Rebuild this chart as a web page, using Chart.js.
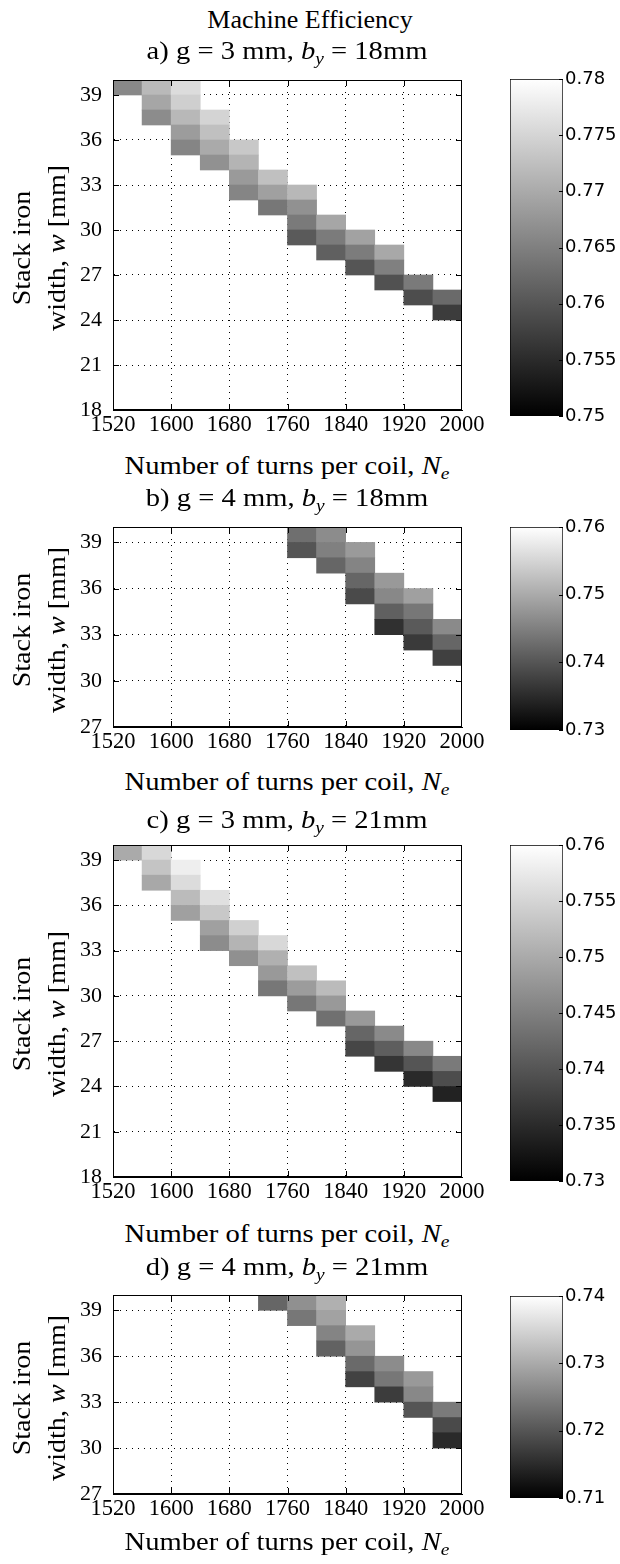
<!DOCTYPE html>
<html><head><meta charset="utf-8">
<script src="https://cdn.jsdelivr.net/npm/chart.js@4.4.0/dist/chart.umd.min.js"></script>
<style>
html,body{margin:0;padding:0;background:#fff;}
#page{position:relative;width:620px;height:1564px;overflow:hidden;background:#fff;}
canvas{position:absolute;}
.t{position:absolute;font-family:"Liberation Serif","Times New Roman",serif;font-size:26px;color:#000;white-space:nowrap;line-height:1;transform:translate(-50%,-50%) scaleX(1.1);z-index:5;}
.main{transform:translate(-50%,-50%);}
.r{transform:translate(-50%,-50%) rotate(-90deg) scaleX(1.08);}
.sb{font-size:0.68em;position:relative;top:0.28em;}
</style></head>
<body><div id="page"></div>
<script>
// ---------- data ----------
const turnTicks = [1520, 1600, 1680, 1760, 1840, 1920, 2000];
const widthTicksA = [18, 21, 24, 27, 30, 33, 36, 39];
const widthTicksB = [27, 30, 33, 36, 39];

// a) g = 3 mm, by = 18 mm
const aTurns = [1540, 1580,1580,1580, 1620,1620,1620,1620,1620, 1660,1660,1660,1660, 1700,1700,1700,1700, 1740,1740,1740, 1780,1780,1780,1780, 1820,1820,1820, 1860,1860,1860, 1900,1900,1900, 1940,1940, 1980,1980];
const aWidth = [39.5, 39.5,38.5,37.5, 39.5,38.5,37.5,36.5,35.5, 37.5,36.5,35.5,34.5, 35.5,34.5,33.5,32.5, 33.5,32.5,31.5, 32.5,31.5,30.5,29.5, 30.5,29.5,28.5, 29.5,28.5,27.5, 28.5,27.5,26.5, 26.5,25.5, 25.5,24.5];
const aEff = [0.7660, 0.7718,0.7695,0.7665, 0.7759,0.7744,0.7716,0.7684,0.7656, 0.7749,0.7726,0.7700,0.7670, 0.7735,0.7712,0.7681,0.7656, 0.7726,0.7688,0.7640, 0.7716,0.7670,0.7644,0.7606, 0.7695,0.7645,0.7613, 0.7690,0.7646,0.7600, 0.7698,0.7651,0.7595, 0.7643,0.7590, 0.7625,0.7571];
const aCbTicks = [0.75, 0.755, 0.76, 0.765, 0.77, 0.775, 0.78];
const aCbLabels = ['0.75', '0.755', '0.76', '0.765', '0.77', '0.775', '0.78'];

// b) g = 4 mm, by = 18 mm
const bTurns = [1780,1780, 1820,1820,1820, 1860,1860,1860,1860, 1900,1900,1900,1900, 1940,1940,1940,1940, 1980,1980,1980];
const bWidth = [39.5,38.5, 39.5,38.5,37.5, 38.5,37.5,36.5,35.5, 36.5,35.5,34.5,33.5, 35.5,34.5,33.5,32.5, 33.5,32.5,31.5];
const bEff = [0.7430,0.7400, 0.7465,0.7450,0.7420, 0.7481,0.7455,0.7420,0.7387, 0.7480,0.7460,0.7413,0.7356, 0.7488,0.7440,0.7406,0.7368, 0.7462,0.7420,0.7375];
const bCbTicks = [0.73, 0.74, 0.75, 0.76];
const bCbLabels = ['0.73', '0.74', '0.75', '0.76'];

// c) g = 3 mm, by = 21 mm
const cTurns = [1540, 1580,1580,1580, 1620,1620,1620,1620, 1660,1660,1660,1660, 1700,1700,1700, 1740,1740,1740,1740, 1780,1780,1780, 1820,1820,1820, 1860,1860,1860, 1900,1900,1900, 1940,1940,1940, 1980,1980,1980];
const cWidth = [39.5, 39.5,38.5,37.5, 38.5,37.5,36.5,35.5, 36.5,35.5,34.5,33.5, 34.5,33.5,32.5, 33.5,32.5,31.5,30.5, 31.5,30.5,29.5, 30.5,29.5,28.5, 28.5,27.5,26.5, 27.5,26.5,25.5, 26.5,25.5,24.5, 25.5,24.5,23.5];
const cEff = [0.7500, 0.7554,0.7531,0.7498, 0.7580,0.7559,0.7520,0.7488, 0.7564,0.7535,0.7488,0.7465, 0.7545,0.7512,0.7469, 0.7554,0.7507,0.7480,0.7440, 0.7526,0.7484,0.7440, 0.7520,0.7480,0.7432, 0.7480,0.7420,0.7382, 0.7462,0.7410,0.7362, 0.7460,0.7400,0.7349, 0.7444,0.7390,0.7340];
const cCbTicks = [0.73, 0.735, 0.74, 0.745, 0.75, 0.755, 0.76];
const cCbLabels = ['0.73', '0.735', '0.74', '0.745', '0.75', '0.755', '0.76'];

// d) g = 4 mm, by = 21 mm
const dTurns = [1740, 1780,1780, 1820,1820,1820,1820, 1860,1860,1860,1860, 1900,1900,1900, 1940,1940,1940, 1980,1980,1980];
const dWidth = [39.5, 39.5,38.5, 39.5,38.5,37.5,36.5, 37.5,36.5,35.5,34.5, 35.5,34.5,33.5, 34.5,33.5,32.5, 32.5,31.5,30.5];
const dEff = [0.7220, 0.7269,0.7240, 0.7307,0.7290,0.7255,0.7215, 0.7300,0.7275,0.7225,0.7178, 0.7265,0.7240,0.7170, 0.7280,0.7260,0.7200, 0.7244,0.7187,0.7149];
const dCbTicks = [0.71, 0.72, 0.73, 0.74];
const dCbLabels = ['0.71', '0.72', '0.73', '0.74'];

// ---------- layout ----------
const panels = [
  {turns: aTurns, width: aWidth, eff: aEff, yMin: 18, yMax: 40, yTicks: widthTicksA, cbMin: 0.75, cbMax: 0.78, cbTicks: aCbTicks, cbLabels: aCbLabels,
   top: 80, bottom: 410, cbTop: 79, cbBottom: 416, subY: 51, xtY: 466,
   sub: 'a) g = 3 mm, <i>b</i><span class="sb"><i>y</i></span> = 18mm'},
  {turns: bTurns, width: bWidth, eff: bEff, yMin: 27, yMax: 40, yTicks: widthTicksB, cbMin: 0.73, cbMax: 0.76, cbTicks: bCbTicks, cbLabels: bCbLabels,
   top: 527, bottom: 727, cbTop: 527, cbBottom: 730, subY: 498, xtY: 782,
   sub: 'b) g = 4 mm, <i>b</i><span class="sb"><i>y</i></span> = 18mm'},
  {turns: cTurns, width: cWidth, eff: cEff, yMin: 18, yMax: 40, yTicks: widthTicksA, cbMin: 0.73, cbMax: 0.76, cbTicks: cCbTicks, cbLabels: cCbLabels,
   top: 845, bottom: 1177, cbTop: 845, cbBottom: 1181, subY: 820, xtY: 1234,
   sub: 'c) g = 3 mm, <i>b</i><span class="sb"><i>y</i></span> = 21mm'},
  {turns: dTurns, width: dWidth, eff: dEff, yMin: 27, yMax: 40, yTicks: widthTicksB, cbMin: 0.71, cbMax: 0.74, cbTicks: dCbTicks, cbLabels: dCbLabels,
   top: 1295, bottom: 1494, cbTop: 1296, cbBottom: 1498, subY: 1267, xtY: 1542,
   sub: 'd) g = 4 mm, <i>b</i><span class="sb"><i>y</i></span> = 21mm'}
];

const SERIF = "'Liberation Serif','Times New Roman',serif";
const page = document.getElementById('page');

function grayOf(v, lo, hi) {
  let t = (v - lo) / (hi - lo);
  t = Math.max(0, Math.min(1, t));
  const g = Math.round(t * 255);
  return 'rgb(' + g + ',' + g + ',' + g + ')';
}

function addText(html, x, y, cls) {
  const d = document.createElement('div');
  d.className = 't' + (cls ? ' ' + cls : '');
  d.style.left = x + 'px';
  d.style.top = y + 'px';
  d.innerHTML = html;
  page.appendChild(d);
}

function addCanvas(left, top, w, h) {
  const c = document.createElement('canvas');
  c.width = w; c.height = h;
  c.style.left = left + 'px'; c.style.top = top + 'px';
  c.style.width = w + 'px'; c.style.height = h + 'px';
  page.appendChild(c);
  return c;
}

const boxPlugin = {
  id: 'boxTicks',
  afterDatasetsDraw(chart, args, opts) {
    const {ctx, chartArea: a} = chart;
    const x = chart.scales.x, y = chart.scales.y;
    ctx.save();
    ctx.strokeStyle = '#000';
    ctx.lineWidth = 1;
    ctx.strokeRect(a.left + 0.5, a.top + 0.5, a.right - a.left - 1, a.bottom - a.top - 1);
    ctx.beginPath();
    const L = 6;
    opts.xTicks.forEach(v => {
      if (v <= x.min || v >= x.max) return;
      const p = Math.round(x.getPixelForValue(v)) + 0.5;
      ctx.moveTo(p, a.bottom); ctx.lineTo(p, a.bottom - L);
      ctx.moveTo(p, a.top); ctx.lineTo(p, a.top + L);
    });
    opts.yTicks.forEach(v => {
      if (v <= y.min || v >= y.max) return;
      const p = Math.round(y.getPixelForValue(v)) + 0.5;
      ctx.moveTo(a.left, p); ctx.lineTo(a.left + L, p);
      ctx.moveTo(a.right, p); ctx.lineTo(a.right - L, p);
    });
    ctx.stroke();
    ctx.restore();
  }
};

const cbTickPlugin = {
  id: 'cbTicks',
  afterDatasetsDraw(chart, args, opts) {
    const {ctx, chartArea: a} = chart;
    const y = chart.scales.y;
    ctx.save();
    ctx.strokeStyle = '#000';
    ctx.lineWidth = 1;
    ctx.beginPath();
    opts.ticks.forEach(v => {
      const p = Math.round(y.getPixelForValue(v)) + 0.5;
      ctx.moveTo(a.right, p); ctx.lineTo(a.right - 4, p);
    });
    ctx.stroke();
    ctx.restore();
  }
};

addText('Machine Efficiency', 310, 20, 'main');

panels.forEach(P => {
  const padTop = 30, axisH = 40;
  const h = (P.bottom - P.top) + padTop + axisH;
  const cv = addCanvas(0, P.top - padTop, 500, h);
  const edgeColor = (lo, hi) => (c) => (c.tick && (c.tick.value <= lo || c.tick.value >= hi)) ? 'rgba(0,0,0,0)' : '#000';
  new Chart(cv, {
    type: 'bar',
    data: {
      datasets: [{
        data: P.turns.map((n, i) => ({x: n, y: [P.width[i] - 0.5, P.width[i] + 0.5]})),
        backgroundColor: P.eff.map(v => grayOf(v, P.cbMin, P.cbMax)),
        borderWidth: 0,
        barPercentage: 1,
        categoryPercentage: 1,
        grouped: false
      }]
    },
    options: {
      responsive: false,
      animation: false,
      events: [],
      layout: {padding: {top: padTop, right: 38, left: 0, bottom: 0}},
      plugins: {legend: {display: false}, tooltip: {enabled: false},
        boxTicks: {xTicks: turnTicks, yTicks: P.yTicks}},
      scales: {
        x: {
          type: 'linear', min: 1520, max: 2000, offset: false,
          afterBuildTicks: s => { s.ticks = turnTicks.map(v => ({value: v})); },
          afterFit: s => { s.height = axisH; },
          ticks: {font: {family: SERIF, size: 22.5}, color: '#000', padding: 2, maxRotation: 0, autoSkip: false,
                  callback: v => String(v)},
          grid: {offset: false, drawTicks: false, color: edgeColor(1520, 2000), lineWidth: 1},
          border: {display: true, color: '#000', width: 1, dash: [1, 5]}
        },
        y: {
          type: 'linear', min: P.yMin, max: P.yMax,
          afterBuildTicks: s => { s.ticks = P.yTicks.map(v => ({value: v})); },
          afterFit: s => { s.width = 113; },
          ticks: {font: {family: SERIF, size: 22}, color: '#000', padding: 11, autoSkip: false,
                  callback: v => String(v)},
          grid: {drawTicks: false, color: edgeColor(P.yMin, P.yMax), lineWidth: 1},
          border: {display: true, color: '#000', width: 1, dash: [1, 5]}
        }
      }
    },
    plugins: [boxPlugin]
  });

  // colorbar
  const cbPad = 30;
  const cbH = (P.cbBottom - P.cbTop) + 2 * cbPad;
  const cc = addCanvas(500, P.cbTop - cbPad, 120, cbH);
  new Chart(cc, {
    type: 'bar',
    data: {
      labels: [''],
      datasets: [{
        data: [[P.cbMin, P.cbMax]],
        backgroundColor: (c) => {
          const area = c.chart.chartArea;
          if (!area) return '#888';
          const g = c.chart.ctx.createLinearGradient(0, area.bottom, 0, area.top);
          g.addColorStop(0, '#000');
          g.addColorStop(1, '#fff');
          return g;
        },
        borderColor: '#000',
        borderWidth: 1,
        borderSkipped: false,
        barPercentage: 1,
        categoryPercentage: 1
      }]
    },
    options: {
      responsive: false,
      animation: false,
      events: [],
      layout: {padding: {top: cbPad, bottom: cbPad, left: 10, right: 0}},
      plugins: {legend: {display: false}, tooltip: {enabled: false}, cbTicks: {ticks: P.cbTicks}},
      scales: {
        x: {display: false},
        y: {
          position: 'right', min: P.cbMin, max: P.cbMax,
          afterBuildTicks: s => { s.ticks = P.cbTicks.map(v => ({value: v})); },
          afterFit: s => { s.width = 57; },
          ticks: {font: {family: "'DejaVu Sans',sans-serif", size: 18}, color: '#000', padding: 2, autoSkip: false,
                  callback: (v, i) => P.cbLabels[i]},
          grid: {display: false, drawTicks: false},
          border: {display: false}
        }
      }
    },
    plugins: [cbTickPlugin]
  });

  // texts
  addText(P.sub, 287, P.subY);
  addText('Number of turns per coil, <i>N</i><span class="sb"><i>e</i></span>', 287, P.xtY);
  const cy = (P.top + P.bottom) / 2 + 3;
  addText('Stack iron', 22, cy, 'r');
  addText('width, <i>w</i> [mm]', 57, cy, 'r');
});
</script>
</body></html>
